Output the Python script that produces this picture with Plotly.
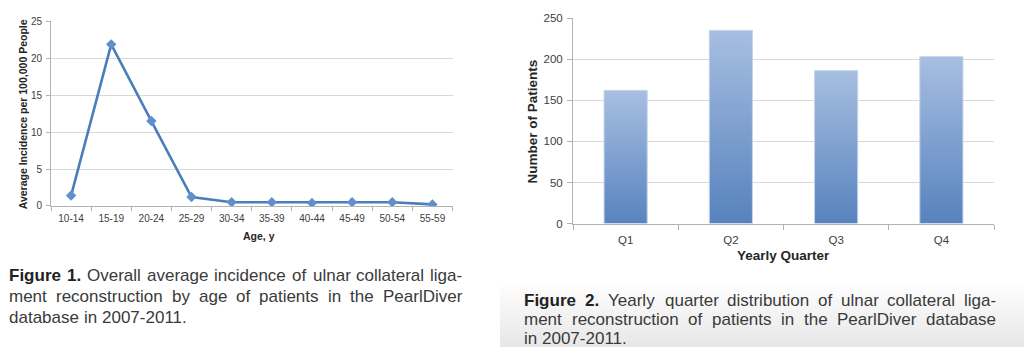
import plotly.graph_objects as go

# ---------------- data ----------------
ages = ["10-14", "15-19", "20-24", "25-29", "30-34", "35-39", "40-44", "45-49", "50-54", "55-59"]
incidence = [1.4, 21.9, 11.5, 1.2, 0.5, 0.5, 0.4, 0.5, 0.5, 0.2]
y1_ticks = [0, 5, 10, 15, 20, 25]

quarters = ["Q1", "Q2", "Q3", "Q4"]
patients = [162, 235, 186, 203]
y2_ticks = [0, 50, 100, 150, 200, 250]

caption1 = [
    "Figure 1. Overall average incidence of ulnar collateral liga-",
    "ment reconstruction by age of patients in the PearlDiver",
    "database in 2007-2011.",
]
caption2 = [
    "Figure 2. Yearly quarter distribution of ulnar collateral liga-",
    "ment reconstruction of patients in the PearlDiver database",
    "in 2007-2011.",
]

# ---------------- helpers ----------------
W, H = 1024, 364
FONT = "Liberation Sans, Arial, Helvetica, sans-serif"


def px(x):
    return x / W


def py(y):
    return (H - y) / H


REG = {' ': 278, '-': 333, '.': 278, ',': 278, '0': 556, '1': 556, '2': 556, '7': 556,
       'a': 556, 'b': 556, 'c': 500, 'd': 556, 'e': 556, 'f': 278, 'g': 556, 'h': 556,
       'i': 222, 'j': 222, 'k': 500, 'l': 222, 'm': 833, 'n': 556, 'o': 556, 'p': 556,
       'q': 556, 'r': 333, 's': 500, 't': 278, 'u': 556, 'v': 500, 'w': 722, 'x': 500,
       'y': 500, 'z': 500, 'D': 722, 'F': 611, 'O': 778, 'P': 667, 'Y': 667}
BOLD = {' ': 278, '.': 278, '1': 556, '2': 556, 'F': 611, 'i': 278, 'g': 611,
        'u': 611, 'r': 389, 'e': 556}


def tw(s, bold, size):
    tab = BOLD if bold else REG
    return sum(tab.get(c, 556) for c in s) / 1000.0 * size


def caption_annotations(lines, x0, x1, baselines, size):
    anns = []
    for li, (line, base) in enumerate(zip(lines, baselines)):
        toks = line.split(" ")
        words = []
        for k, t in enumerate(toks):
            words.append((t, li == 0 and k < 2))
        widths = [tw(t, b, size) for t, b in words]
        justify = li < len(lines) - 1
        if justify and len(words) > 1:
            gap = (x1 - x0 - sum(widths)) / (len(words) - 1)
        else:
            gap = REG[' '] / 1000.0 * size
        x = x0
        for (t, b), w in zip(words, widths):
            anns.append(dict(
                text=f"<b>{t}</b>" if b else t,
                x=px(x), y=py(base - 0.35 * size + 4), xref="paper", yref="paper",
                xanchor="left", yanchor="middle", showarrow=False, borderpad=0,
                font=dict(family=FONT, size=size, color="#222222" if b else "#3a3a3a"),
            ))
            x += w + gap
    return anns


fig = go.Figure()

# ---------- left: line chart ----------
fig.add_trace(go.Scatter(
    x=ages, y=incidence, mode="lines+markers", xaxis="x", yaxis="y",
    line=dict(color="#4a7ebb", width=2.6),
    marker=dict(symbol="diamond", size=8, color="#6090cc"),
    showlegend=False, hoverinfo="skip",
))

# ---------- right: gradient bars ----------
hw = 0.205
for i, (q, v) in enumerate(zip(quarters, patients)):
    fig.add_trace(go.Scatter(
        x=[i - hw, i + hw, i + hw, i - hw, i - hw],
        y=[0, 0, v, v, 0],
        xaxis="x2", yaxis="y2", mode="lines", fill="toself",
        line=dict(color="#c3d3ea", width=1),
        fillgradient=dict(type="vertical", start=0, stop=v,
                          colorscale=[[0, "#5480bc"], [1, "#a6bee1"]]),
        showlegend=False, hoverinfo="skip", name=q,
    ))

# ---------- caption background gradient (right) ----------
fig.add_trace(go.Scatter(
    x=[0, 1, 1, 0, 0], y=[0, 0, 1, 1, 0], xaxis="x3", yaxis="y3",
    mode="lines", fill="toself", line=dict(width=0),
    fillgradient=dict(type="vertical", start=0, stop=1,
                      colorscale=[[0, "#e6e6e6"], [1, "#ffffff"]]),
    showlegend=False, hoverinfo="skip",
))

axis_common = dict(showline=True, linecolor="#b3b3b3", linewidth=1,
                   tickcolor="#b3b3b3", zeroline=False)

fig.update_layout(
    width=W, height=H, autosize=False,
    margin=dict(l=0, r=0, t=0, b=0),
    paper_bgcolor="white", plot_bgcolor="white",
    font=dict(family=FONT, color="#404040"),
    xaxis=dict(domain=[px(51), px(452.5)], range=[-0.5, 9.5], type="category",
               tickson="boundaries", ticks="outside", ticklen=4, showgrid=False,
               tickfont=dict(size=10, color="#404040"), anchor="y",
               ticklabelstandoff=3, **axis_common),
    yaxis=dict(domain=[py(206.7), py(16)], range=[0, 25], tickvals=y1_ticks,
               ticks="outside", ticklen=4, showgrid=True, gridcolor="#d9d9d9",
               tickfont=dict(size=10, color="#404040"), anchor="x",
               ticklabelstandoff=2, **axis_common),
    xaxis2=dict(domain=[px(573), px(994)], range=[-0.5, 3.5],
                tickvals=list(range(len(quarters))), ticktext=quarters,
                ticks="", showgrid=False,
                minor=dict(ticks="outside", ticklen=5, tick0=-0.5, dtick=1,
                           tickcolor="#b3b3b3", showgrid=False),
                tickfont=dict(size=11.5, color="#404040"), anchor="y2",
                ticklabelstandoff=6, **axis_common),
    yaxis2=dict(domain=[py(225), py(12.5)], range=[0, 250], tickvals=y2_ticks,
                ticks="outside", ticklen=5, showgrid=True, gridcolor="#d9d9d9",
                tickfont=dict(size=11.5, color="#404040"), anchor="x2",
                ticklabelstandoff=2, **axis_common),
    xaxis3=dict(domain=[px(500), 1], range=[0, 1], visible=False, fixedrange=True,
                anchor="y3"),
    yaxis3=dict(domain=[py(353), py(285)], range=[0, 1], visible=False,
                fixedrange=True, anchor="x3"),
)

annotations = [
    dict(text="<b>Average Incidence per 100,000 People</b>", x=px(23), y=py(112),
         textangle=-90, font=dict(size=10.5, color="#262626", family=FONT)),
    dict(text="<b>Age, y</b>", x=px(259), y=py(238),
         font=dict(size=10.5, color="#262626", family=FONT)),
    dict(text="<b>Number of Patients</b>", x=px(533), y=py(119.5), textangle=-90,
         font=dict(size=13.5, color="#262626", family=FONT)),
    dict(text="<b>Yearly Quarter</b>", x=px(783.3), y=py(257.5),
         font=dict(size=13.5, color="#262626", family=FONT)),
]
for a in annotations:
    a.update(xref="paper", yref="paper", showarrow=False, xanchor="center",
             yanchor="middle", borderpad=0)

annotations += caption_annotations(caption1, 8, 461.5, [281, 302.6, 323.7], 17)
annotations += caption_annotations(caption2, 523.3, 995, [307, 326.5, 346.3], 17)

fig.update_layout(annotations=annotations)

fig.write_html("out.html", post_script="document.body.style.margin='0';",
               config={"displayModeBar": False})
